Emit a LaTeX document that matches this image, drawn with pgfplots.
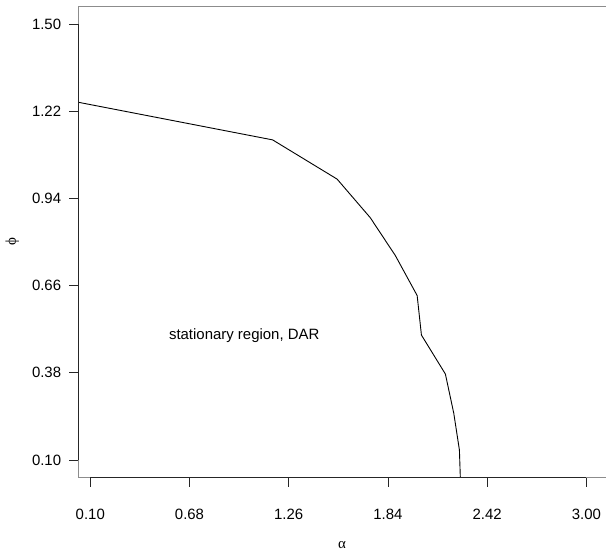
\documentclass[border=0pt]{standalone}
\usepackage{fontspec}
\setmainfont{Liberation Sans}
\newfontfamily\symfont{Liberation Serif}
\usepackage{pgfplots}
\pgfplotsset{compat=1.18}
\begin{document}
\fontsize{15}{18}\selectfont
\begin{tikzpicture}
\useasboundingbox (0,0) rectangle (606bp,556bp);
\begin{axis}[
  at={(78.3bp,78.3bp)}, anchor=south west,
  scale only axis, width=527.7bp, height=471.7bp,
  xmin=0.03, xmax=3.115, ymin=0.043, ymax=1.558,
  xtick={0.10,0.68,1.26,1.84,2.42,3.00},
  ytick={0.10,0.38,0.66,0.94,1.22,1.50},
  xticklabels={0.10,0.68,1.26,1.84,2.42,3.00},
  yticklabels={0.10,0.38,0.66,0.94,1.22,1.50},
  tick align=outside, xtick pos=bottom, ytick pos=left,
  major tick length=9bp,
  axis line style={black!45, line width=0.6bp},
  every tick/.style={black!85, line width=0.8bp},
  every tick label/.append style={font=\fontsize{15}{18}\selectfont},
  xticklabel style={yshift=-17bp},
  yticklabel style={xshift=-3bp},
  clip mode=individual,
]
\addplot[black, line width=0.9bp] coordinates {
 (0.00,1.252) (1.166,1.128) (1.543,1.002) (1.737,0.878) (1.884,0.756)
 (2.011,0.628) (2.036,0.501) (2.176,0.376) (2.225,0.250) (2.258,0.132) (2.266,0.0)
};
\draw[black!85, line width=0.9bp] (axis cs:0.10,0.043) -- (axis cs:3.00,0.043);
\draw[black!85, line width=0.9bp] (axis cs:0.03,0.10) -- (axis cs:0.03,1.50);
\node[font=\fontsize{15}{18}\selectfont] at (axis cs:1.0,0.5) {stationary region, DAR};
\node[font=\fontsize{15}{18}\selectfont\symfont, anchor=center] at ([yshift=-67bp]rel axis cs:0.5,0) {α};
\node[font=\fontsize{15}{18}\selectfont\symfont, anchor=center, rotate=90] at ([xshift=-66bp]rel axis cs:0,0.5) {ϕ};
\end{axis}
\end{tikzpicture}
\end{document}
